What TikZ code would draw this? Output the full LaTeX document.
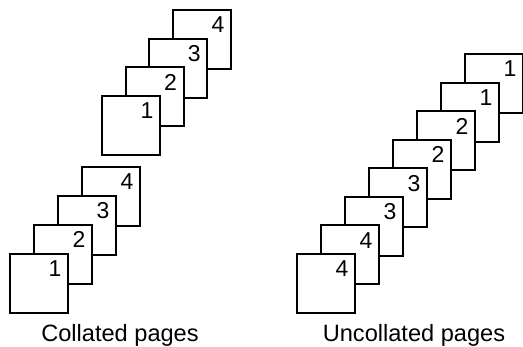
\documentclass[tikz,border=0pt]{standalone}
\usepackage{fontspec}
\setmainfont{Liberation Sans}
\usetikzlibrary{calc}
\tikzset{
  sheet/.style={draw=black, fill=white, line width=2pt, minimum width=58pt, minimum height=59pt, inner sep=0pt, outer sep=0pt, anchor=north west},
  num/.style={anchor=base east, inner sep=0pt, font=\fontsize{23}{27}\selectfont},
  caption/.style={anchor=base, inner sep=0pt, font=\fontsize{23.6}{28}\selectfont}
}
\newcommand{\sheetat}[4]{% name, x, y, label
  \node[sheet] (#1) at (#2,#3) {};
  \node[num] (#1n) at ($(#1.north east)+(-6.5,23)$) {#4};
}
\begin{document}
\begin{tikzpicture}[x=1pt,y=-1pt]
\useasboundingbox (0,0) rectangle (523,347);
% upper collated stack (back to front)
\sheetat{ua4}{173}{10}{4}
\sheetat{ua3}{149.3}{38.7}{3}
\sheetat{ua2}{125.7}{67.3}{2}
\sheetat{ua1}{102}{96}{1}
% lower collated stack
\sheetat{la4}{82}{167}{4}
\sheetat{la3}{58}{196}{3}
\sheetat{la2}{34}{225}{2}
\sheetat{la1}{10}{254}{1}
% uncollated stack
\sheetat{u8}{465}{54}{1}
\sheetat{u7}{441}{82.6}{1}
\sheetat{u6}{417}{111.1}{2}
\sheetat{u5}{393}{139.7}{2}
\sheetat{u4}{369}{168.3}{3}
\sheetat{u3}{345}{196.9}{3}
\sheetat{u2}{321}{225.4}{4}
\sheetat{u1}{297}{254}{4}
\node[caption] (capc) at (120,342) {Collated pages};
\node[caption] (capu) at (414,342) {Uncollated pages};
\end{tikzpicture}
\end{document}
